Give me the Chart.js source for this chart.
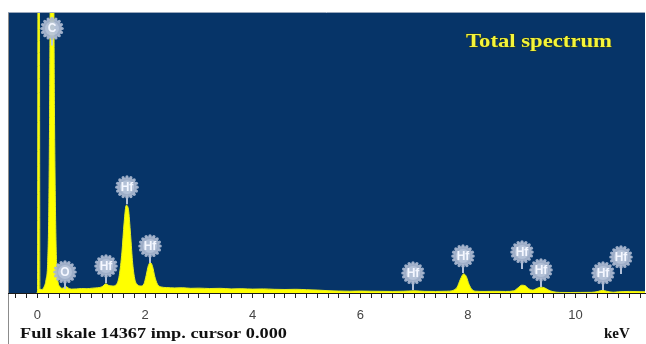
<!DOCTYPE html>
<html>
<head>
<meta charset="utf-8">
<script src="https://cdn.jsdelivr.net/npm/chart.js@4/dist/chart.umd.min.js"></script>
<style>
  html, body { margin: 0; padding: 0; background: #ffffff; }
  #wrap { width: 646px; height: 344px; }
</style>
</head>
<body>
<div id="wrap"><canvas id="spec" width="646" height="344"></canvas></div>
<script>
// EDS spectrum: energy (keV) and counts per channel group
const energyKeV = [
  -0.02, 0.00, 0.01, 0.035, 0.045, 0.08, 0.12, 0.16, 0.19, 0.21, 0.225, 0.24, 0.30, 0.315, 0.335, 0.355,
  0.38, 0.42, 0.46, 0.50, 0.53, 0.57, 0.63, 0.72, 0.82, 0.92, 1.02, 1.12, 1.20, 1.27, 1.33, 1.40,
  1.47, 1.52, 1.57, 1.61, 1.65, 1.69, 1.73, 1.77, 1.81, 1.86, 1.92, 1.98, 2.02, 2.06, 2.10, 2.14,
  2.18, 2.23, 2.30, 2.40, 2.55, 2.70, 2.85, 3.00, 3.20, 3.40, 3.60, 3.80, 4.00, 4.20, 4.40, 4.60,
  4.80, 5.00, 5.20, 5.40, 5.60, 5.80, 6.00, 6.20, 6.40, 6.60, 6.80, 7.00, 7.20, 7.40, 7.60, 7.72,
  7.80, 7.86, 7.92, 7.97, 8.02, 8.08, 8.15, 8.30, 8.50, 8.70, 8.85, 8.93, 9.00, 9.06, 9.13, 9.20,
  9.28, 9.35, 9.42, 9.50, 9.58, 9.70, 9.90, 10.10, 10.30, 10.42, 10.50, 10.58, 10.70, 10.80, 11.00, 11.20,
  11.35
];
const counts = [
  0, 0, 16000, 16000, 200, 180, 300, 700, 1600, 4200, 9000, 16000, 16000, 9500, 4200, 1500,
  600, 320, 240, 300, 330, 260, 200, 210, 230, 220, 250, 270, 320, 470, 380, 360,
  450, 900, 2100, 3600, 4500, 4300, 3000, 1500, 700, 420, 360, 480, 900, 1400, 1560, 1350,
  850, 450, 310, 280, 260, 270, 240, 250, 230, 240, 210, 220, 200, 210, 190, 180,
  190, 170, 150, 120, 100, 90, 100, 90, 85, 80, 90, 110, 85, 80, 90, 130,
  300, 700, 980, 850, 450, 170, 90, 80, 85, 80, 110, 260, 400, 380, 220, 150,
  230, 300, 270, 150, 70, 30, 25, 30, 35, 80, 140, 90, 40, 60, 80, 70,
  60
];

// Element line markers: symbol, energy (keV) and the count level the marker points at
const markerLabels = ['C', 'O', 'Hf', 'Hf', 'Hf', 'Hf', 'Hf', 'Hf', 'Hf', 'Hf', 'Hf'];
const markerKeV    = [0.27, 0.51, 1.27, 1.66, 2.09, 6.98, 7.91, 9.00, 9.36, 10.51, 10.84];
const markerLevel  = [12700, 205, 510, 4560, 1540, 154, 1020, 1230, 310, 154, 975];

// Axis settings
const fullScale = 14367;      // counts at the top of the plot
const cursorKeV = 0.000;
const tickLabels = ['0', '2', '4', '6', '8', '10'];
const axisMinKeV = -0.548;
const axisMaxKeV = 11.292;
const tickStepKeV = 0.2;

const spectrumPoints = energyKeV.map((e, i) => ({ x: e, y: counts[i] }));

const BLUE = '#063468';

const decorations = {
  id: 'decorations',
  beforeDraw(chart) {
    const { ctx, chartArea: a } = chart;
    ctx.save();
    ctx.fillStyle = '#ffffff';
    ctx.fillRect(0, 0, chart.width, chart.height);
    ctx.fillStyle = BLUE;
    ctx.fillRect(a.left, a.top, a.right - a.left, a.bottom - a.top);
    // thin frame lines
    ctx.strokeStyle = '#9aa8bc';
    ctx.lineWidth = 1;
    ctx.beginPath();
    ctx.moveTo(a.left, a.top - 0.5);
    ctx.lineTo(a.right, a.top - 0.5);
    ctx.stroke();
    ctx.strokeStyle = '#8c8c8c';
    ctx.beginPath();
    ctx.moveTo(a.left + 0.5, a.top);
    ctx.lineTo(a.left + 0.5, chart.height);
    ctx.stroke();
    ctx.restore();
  },
  afterDatasetsDraw(chart) {
    const { ctx, chartArea: a, scales } = chart;
    const xs = scales.x, ys = scales.y;
    ctx.save();
    ctx.beginPath();
    ctx.rect(a.left, a.top, a.right - a.left, a.bottom - a.top);
    ctx.clip();

    // element markers
    markerLabels.forEach((lab, i) => {
      const x = Math.round(xs.getPixelForValue(markerKeV[i]));
      const yb = ys.getPixelForValue(markerLevel[i]);
      const cy = yb - 17;
      ctx.strokeStyle = 'rgba(186,200,222,0.95)';
      ctx.lineWidth = 2;
      ctx.beginPath();
      ctx.moveTo(x, cy + 8);
      ctx.lineTo(x, yb);
      ctx.stroke();
      // scalloped disc
      ctx.fillStyle = 'rgba(170,184,208,0.93)';
      ctx.beginPath();
      ctx.arc(x, cy, 10, 0, Math.PI * 2);
      ctx.fill();
      for (let k = 0; k < 16; k++) {
        const t = (k / 16) * Math.PI * 2;
        ctx.beginPath();
        ctx.arc(x + Math.cos(t) * 10.2, cy + Math.sin(t) * 10.2, 1.6, 0, Math.PI * 2);
        ctx.fill();
      }
      ctx.fillStyle = 'rgba(200,212,230,0.5)';
      ctx.beginPath();
      ctx.arc(x, cy, 7, 0, Math.PI * 2);
      ctx.fill();
      ctx.fillStyle = '#f4f7ff';
      ctx.font = 'bold 12px "Liberation Sans", Arial, sans-serif';
      ctx.textAlign = 'center';
      ctx.textBaseline = 'middle';
      ctx.fillText(lab, x, cy + 0.5);
    });

    // title inside the plot
    ctx.font = 'bold 18px "Liberation Serif", "Times New Roman", serif';
    ctx.textAlign = 'left';
    ctx.textBaseline = 'alphabetic';
    const title = 'Total spectrum';
    const tw = ctx.measureText(title).width;
    ctx.save();
    ctx.translate(466, 47);
    ctx.scale(146 / tw, 1);
    ctx.strokeStyle = 'rgba(60,60,0,0.6)';
    ctx.lineWidth = 1;
    ctx.strokeText(title, 0, 0);
    ctx.fillStyle = '#f4f43a';
    ctx.fillText(title, 0, 0);
    ctx.restore();
    ctx.restore();
  },
  afterDraw(chart) {
    const { ctx } = chart;
    ctx.save();
    ctx.fillStyle = '#111111';
    ctx.font = 'bold 15px "Liberation Serif", "Times New Roman", serif';
    ctx.textBaseline = 'alphabetic';
    ctx.textAlign = 'left';
    const foot = 'Full skale ' + fullScale + ' imp. cursor ' + cursorKeV.toFixed(3);
    const fw = ctx.measureText(foot).width;
    ctx.save();
    ctx.translate(20, 338);
    ctx.scale(267 / fw, 1);
    ctx.fillText(foot, 0, 0);
    ctx.restore();
    ctx.fillText('keV', 604, 338);
    ctx.restore();
  }
};

new Chart(document.getElementById('spec'), {
  type: 'line',
  data: {
    datasets: [{
      data: spectrumPoints,
      borderColor: '#e6ee1e',
      borderWidth: 1,
      backgroundColor: '#ffff00',
      fill: 'origin',
      pointRadius: 0,
      tension: 0,
      cubicInterpolationMode: 'monotone'
    }]
  },
  options: {
    responsive: false,
    devicePixelRatio: 1,
    animation: false,
    events: [],
    layout: { padding: { left: 8, right: 1, top: 13, bottom: 0 } },
    plugins: { legend: { display: false }, tooltip: { enabled: false }, title: { display: false } },
    scales: {
      x: {
        type: 'linear',
        min: axisMinKeV,
        max: axisMaxKeV,
        afterFit(scale) {
          scale.height = 51;
          scale.paddingLeft = 0;
          scale.paddingRight = 0;
          scale.paddingTop = 0;
          scale.paddingBottom = 0;
        },
        border: { display: true, color: '#1a1a1a', width: 1 },
        grid: { drawOnChartArea: false, drawTicks: true, tickLength: 5, color: '#222222', lineWidth: 1 },
        ticks: {
          stepSize: tickStepKeV,
          includeBounds: false,
          autoSkip: false,
          maxRotation: 0,
          minRotation: 0,
          maxTicksLimit: 200,
          padding: 10,
          color: '#444444',
          font: { family: '"Liberation Sans", Arial, sans-serif', size: 13 },
          callback(v) {
            const r = Math.round(v * 10) / 10;
            const s = String(Math.round(r));
            return (Math.abs(r - Math.round(r)) < 1e-6 && tickLabels.includes(s)) ? s : '';
          }
        }
      },
      y: {
        display: false,
        min: 0,
        max: fullScale
      }
    }
  },
  plugins: [decorations]
});
</script>
</body>
</html>
